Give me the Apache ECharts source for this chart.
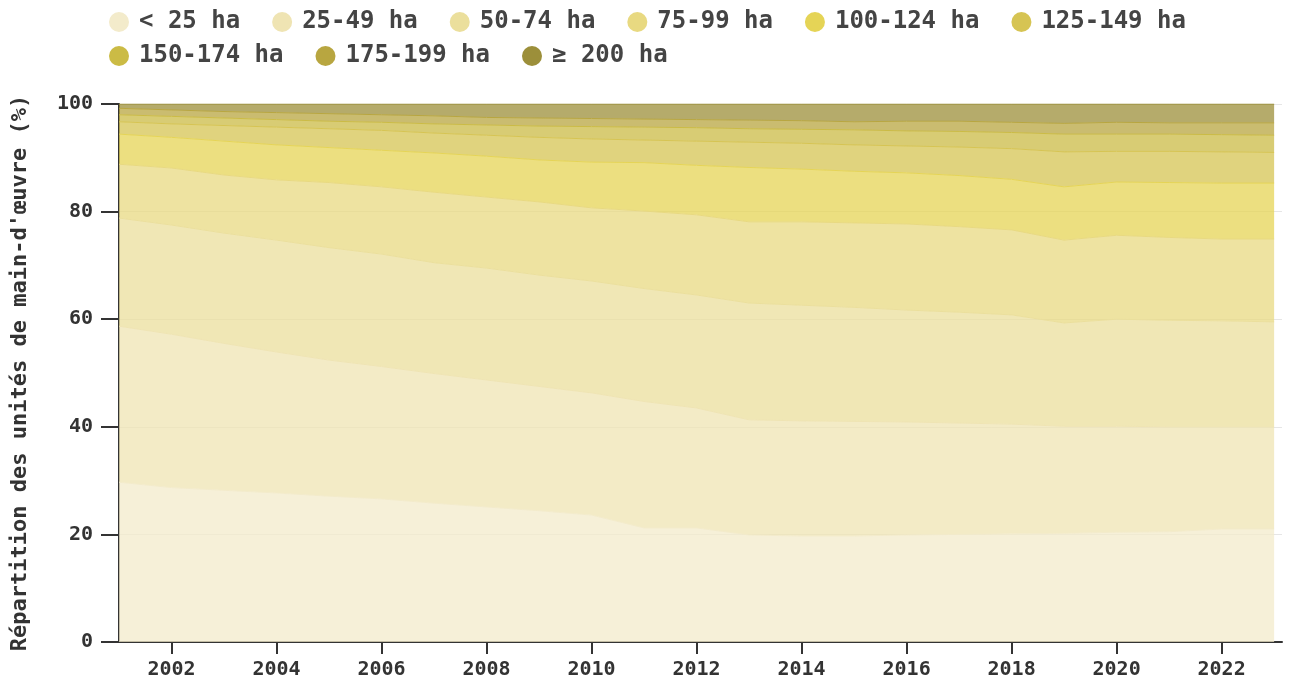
<!DOCTYPE html>
<html>
<head>
<meta charset="utf-8">
<script src="https://cdn.jsdelivr.net/npm/echarts@6/dist/echarts.min.js"></script>
<style>
  html, body { margin: 0; padding: 0; background: #fff; }
  #chart { width: 1290px; height: 681px; }
</style>
</head>
<body>
<div id="chart"></div>
<script>
// years 2001..2023, shares (%) of labour units per farm size class
var years = [2001,2002,2003,2004,2005,2006,2007,2008,2009,2010,2011,2012,2013,2014,2015,2016,2017,2018,2019,2020,2021,2022,2023];
var xTicks = [2002,2004,2006,2008,2010,2012,2014,2016,2018,2020,2022];
var classNames = ["< 25 ha","25-49 ha","50-74 ha","75-99 ha","100-124 ha","125-149 ha","150-174 ha","175-199 ha","≥ 200 ha"];
var classColors = ["#f3ebcb","#efe4b3","#ebdf9c","#e8d981","#e5d456","#d6c453","#cbbb45","#b8a640","#9c8f3a"];

var lt25    = [29.7,28.7,28.2,27.7,27.1,26.6,25.8,25.1,24.4,23.6,21.2,21.2,19.9,19.7,19.7,19.9,20.0,20.1,20.2,20.4,20.5,21.0,21.0];
var s25_49  = [29.0,28.5,27.3,26.2,25.3,24.6,24.1,23.6,23.1,22.7,23.5,22.3,21.4,21.4,21.3,21.0,20.7,20.4,19.9,19.7,19.5,19.0,19.0];
var s50_74  = [20.1,20.3,20.5,20.8,20.9,20.9,20.6,20.8,20.7,20.8,21.0,21.0,21.7,21.5,21.2,20.8,20.6,20.3,19.2,19.9,19.8,19.7,19.5];
var s75_99  = [10.0,10.6,10.8,11.2,12.1,12.5,13.1,13.2,13.6,13.6,14.4,14.9,15.1,15.5,15.7,16.0,15.9,15.8,15.4,15.6,15.4,15.2,15.4];
var s100_124 = [5.6,5.7,6.3,6.5,6.5,6.8,7.3,7.6,7.8,8.5,9.0,9.2,10.1,9.8,9.6,9.5,9.5,9.4,9.9,9.9,10.2,10.4,10.4];
var s125_149 = [2.3,2.5,2.9,3.3,3.5,3.7,3.7,3.9,4.2,4.3,4.2,4.5,4.7,4.8,4.9,5.0,5.3,5.7,6.5,5.7,5.8,5.8,5.7];
var s150_174 = [1.3,1.4,1.4,1.4,1.4,1.5,1.7,1.9,2.1,2.3,2.4,2.5,2.5,2.6,2.8,2.8,2.9,3.0,3.3,3.2,3.2,3.2,3.2];
var s175_199 = [1.2,1.2,1.2,1.3,1.4,1.4,1.5,1.4,1.5,1.5,1.5,1.5,1.6,1.6,1.5,1.8,1.9,1.9,2.0,2.2,2.1,2.2,2.3];
var ge200   = [0.8,1.1,1.4,1.6,1.8,2.0,2.2,2.5,2.6,2.7,2.8,2.9,3.0,3.1,3.3,3.2,3.2,3.4,3.6,3.4,3.5,3.5,3.5];

var classValues = [lt25,s25_49,s50_74,s75_99,s100_124,s125_149,s150_174,s175_199,ge200];

var font = "DejaVu Sans Mono";

var series = [];
for(var i=0;i<classNames.length;i++){
	var pts = [];
	for(var j=0;j<years.length;j++){
		// value first so the stack runs on the y dimension
		pts.push([classValues[i][j], years[j]]);
	}
	series.push({
		name: classNames[i],
		type: 'line',
		stack: 'total',
		data: pts,
		encode: { x: 1, y: 0 },
		showSymbol: false,
		color: classColors[i],
		lineStyle: { width: 1, color: classColors[i] },
		areaStyle: { color: classColors[i], opacity: 0.75 },
		emphasis: { disabled: true }
	});
}

var legendText = { fontFamily: font, fontWeight: 'bold', fontSize: 24, color: '#444' };

var option = {
	animation: false,
	legend: [{
		data: classNames.slice(0,6),
		left: 104, top: 5,
		icon: 'circle', itemWidth: 30, itemHeight: 20, itemGap: 32,
		textStyle: legendText
	},{
		data: classNames.slice(6),
		left: 104, top: 39,
		icon: 'circle', itemWidth: 30, itemHeight: 20, itemGap: 32,
		textStyle: legendText
	}],
	grid: { left: 119, right: 8, top: 104, bottom: 39, outerBoundsMode: 'none' },
	xAxis: {
		type: 'value',
		min: 2001, max: 2023.15,
		axisLine: { lineStyle: { color: '#333', width: 2 } },
		axisTick: { customValues: xTicks, length: 12, lineStyle: { color: '#333', width: 2 } },
		axisLabel: { customValues: xTicks, margin: 18, fontFamily: font, fontWeight: 'bold', fontSize: 20, color: '#333',
			formatter: function(v){ return String(v); } },
		splitLine: { show: false }
	},
	yAxis: {
		type: 'value',
		min: 0, max: 100, interval: 20,
		name: "Répartition des unités de main-d'œuvre (%)",
		nameLocation: 'middle', nameGap: 88,
		nameTextStyle: { fontFamily: font, fontWeight: 'bold', fontSize: 22, color: '#333' },
		axisLine: { show: true, lineStyle: { color: '#333', width: 2 } },
		axisTick: { show: true, length: 18, lineStyle: { color: '#333', width: 2 } },
		axisLabel: { margin: 26, fontFamily: font, fontWeight: 'bold', fontSize: 20, color: '#333' },
		splitLine: { lineStyle: { color: '#e6e6e6', width: 1 } }
	},
	series: series
};

var chart = echarts.init(document.getElementById('chart'));
chart.setOption(option);
</script>
</body>
</html>
